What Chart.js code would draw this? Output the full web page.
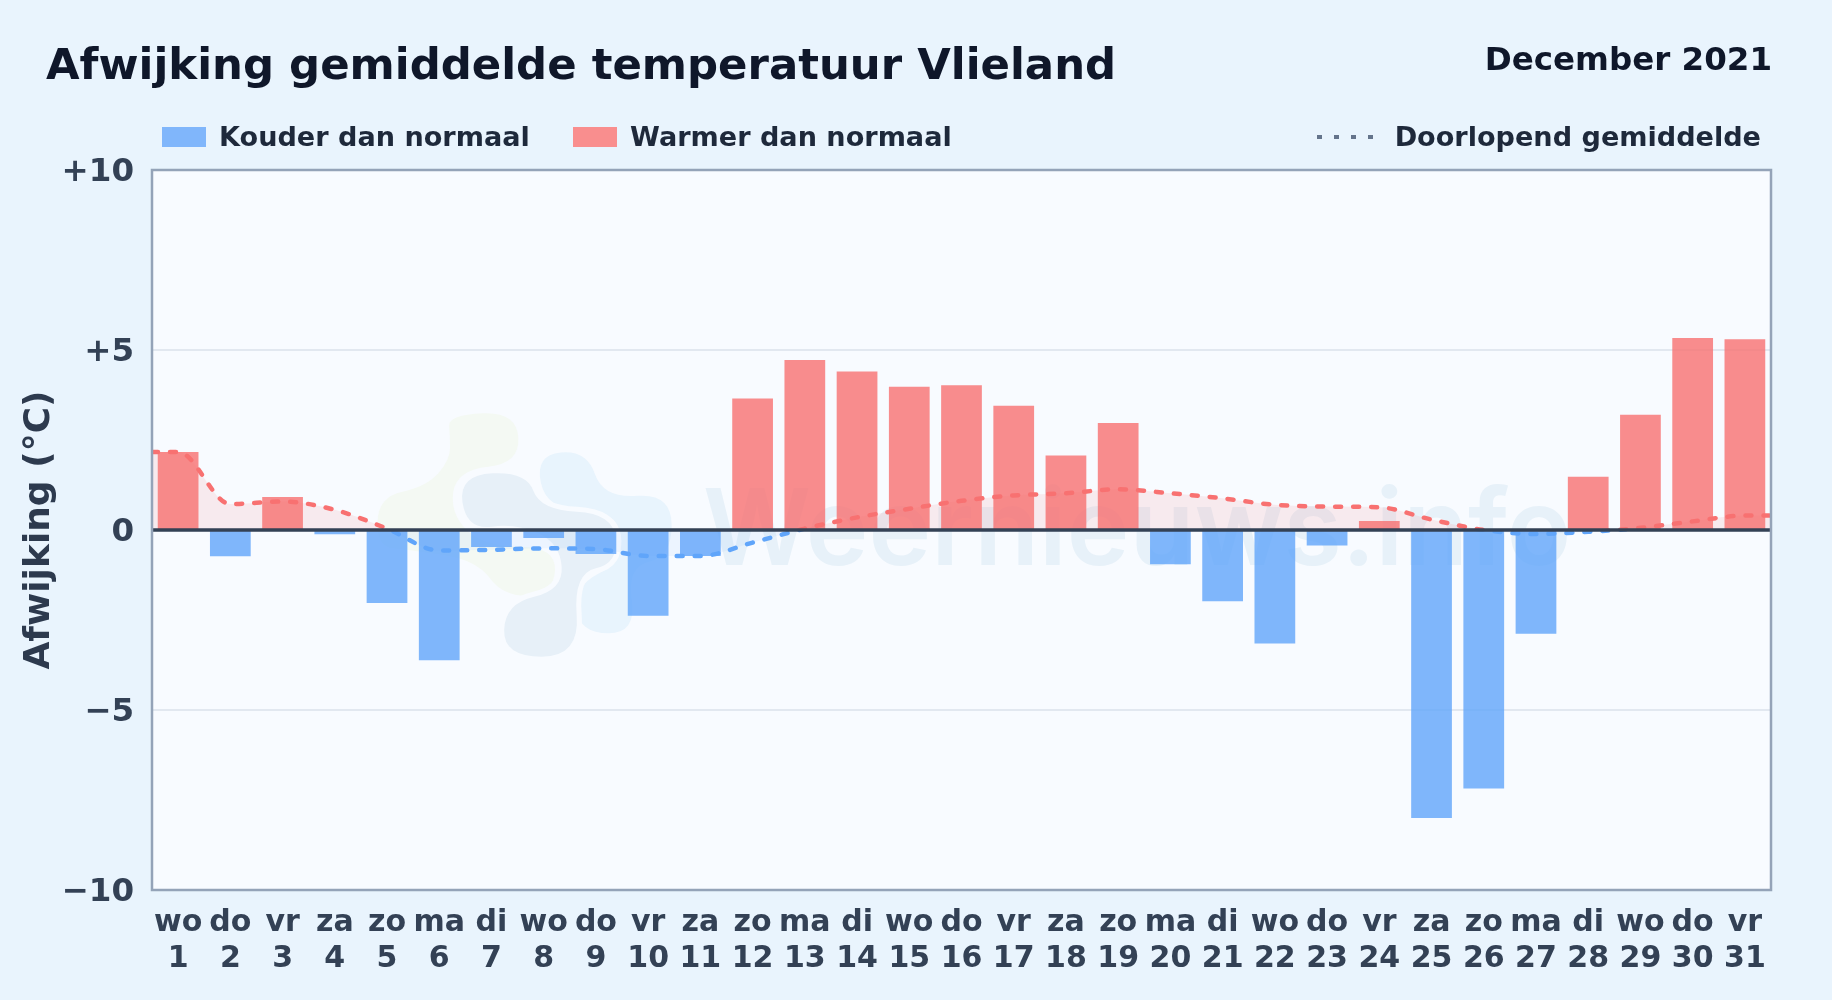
<!DOCTYPE html>
<html>
<head>
<meta charset="utf-8">
<style>
  html, body { margin: 0; padding: 0; width: 1832px; height: 1000px; overflow: hidden; background: #e9f4fd; font-family: "DejaVu Sans", sans-serif; font-weight: bold; }
  canvas { position: absolute; left: 0; top: 0; }
  .txt { position: absolute; white-space: nowrap; line-height: 1; }
  #title { left: 46px; top: 43px; font-size: 43.4px; color: #0f172a; }
  #period { right: 60px; top: 43px; font-size: 32.5px; color: #0f172a; }
  .leg { top: 123px; font-size: 27.1px; color: #1e293b; }
  .swatch { position: absolute; top: 127px; width: 44px; height: 20px; }
  #dots { position: absolute; left: 1317px; top: 135px; width: 58px; height: 4px; }
</style>
<script src="https://cdn.jsdelivr.net/npm/chart.js@4/dist/chart.umd.min.js"></script>
</head>
<body>
<canvas id="chart" width="1832" height="1000"></canvas>
<div class="txt" id="title">Afwijking gemiddelde temperatuur Vlieland</div>
<div class="txt" id="period">December 2021</div>
<div class="swatch" style="left:162px;background:#80b6fb"></div>
<div class="txt leg" style="left:219px">Kouder dan normaal</div>
<div class="swatch" style="left:573px;background:#f98e8e"></div>
<div class="txt leg" style="left:630px">Warmer dan normaal</div>
<svg id="dots"><line x1="0" y1="2" x2="58" y2="2" stroke="#64748b" stroke-width="4" stroke-dasharray="5 12"/></svg>
<div class="txt leg" style="right:71px">Doorlopend gemiddelde</div>
<script>
const weekdays = ["wo","do","vr","za","zo","ma","di","wo","do","vr","za","zo","ma","di","wo","do","vr","za","zo","ma","di","wo","do","vr","za","zo","ma","di","wo","do","vr"];
const days = [1,2,3,4,5,6,7,8,9,10,11,12,13,14,15,16,17,18,19,20,21,22,23,24,25,26,27,28,29,30,31];
const deviation = [2.17,-0.73,0.92,-0.12,-2.03,-3.62,-0.47,-0.22,-0.67,-2.38,-0.72,3.65,4.72,4.4,3.98,4.02,3.45,2.07,2.97,-0.95,-1.98,-3.15,-0.43,0.25,-8.0,-7.18,-2.88,1.48,3.2,5.33,5.3];
const runningMean = [2.17,0.72,0.79,0.56,0.04,-0.57,-0.55,-0.51,-0.53,-0.72,-0.72,-0.35,0.04,0.35,0.59,0.81,0.96,1.02,1.13,1.02,0.88,0.7,0.65,0.63,0.29,0,-0.11,-0.05,0.06,0.24,0.4];
const yTicks = {"10":"+10","5":"+5","0":"0","-5":"\u22125","-10":"\u221210"};

const labels = weekdays.map((w, i) => [w, String(days[i])]);
// line runs on to the plot edges, half a day before the 1st and after the 31st
const meanPoints = [{x: 0.5, y: runningMean[0]}]
    .concat(runningMean.map((v, i) => ({x: days[i], y: v})))
    .concat([{x: 31.5, y: runningMean[30]}]);

function lineGradient(context) {
    const chart = context.chart;
    if (!chart.chartArea) return "#f87171";
    const y = chart.scales.y;
    const g = chart.ctx.createLinearGradient(0, y.top, 0, y.bottom);
    const stop = (y.getPixelForValue(0) - y.top) / (y.bottom - y.top);
    g.addColorStop(0, "#f87171");
    g.addColorStop(stop, "#f87171");
    g.addColorStop(stop, "#60a5fa");
    g.addColorStop(1, "#60a5fa");
    return g;
}

// logo outlines, in 3x crop pixels around (370,400)
const logoGreen = [[235,45],[440,35],[450,190],[260,210],[240,340],[340,440],[560,440],[550,585],[400,590],[320,480],[120,450],[20,440],[25,290],[170,260],[240,180],[240,110]];
const logoBlue = [[495,165],[650,150],[700,295],[905,280],[905,470],[770,500],[800,700],[630,700],[610,560],[765,480],[740,330],[530,330]];
const logoGrey = [[265,225],[470,215],[510,330],[730,340],[745,490],[610,520],[630,770],[400,770],[405,610],[580,570],[570,430],[440,370],[290,390]];

function blob(ctx, pts, color) {
    const n = pts.length;
    ctx.beginPath();
    ctx.moveTo((pts[n - 1][0] + pts[0][0]) / 2, (pts[n - 1][1] + pts[0][1]) / 2);
    for (let i = 0; i < n; i++) {
        const next = pts[(i + 1) % n];
        ctx.quadraticCurveTo(pts[i][0], pts[i][1], (pts[i][0] + next[0]) / 2, (pts[i][1] + next[1]) / 2);
    }
    ctx.closePath();
    ctx.strokeStyle = "#f8fbff";
    ctx.lineWidth = 30;
    ctx.stroke();
    ctx.fillStyle = color;
    ctx.fill();
}

const plotFrame = {
    id: "plotFrame",
    beforeDraw(chart) {
        const ctx = chart.ctx;
        const a = chart.chartArea;
        ctx.save();
        ctx.fillStyle = "#e9f4fd";
        ctx.fillRect(0, 0, chart.width, chart.height);
        ctx.fillStyle = "#f8fbff";
        ctx.fillRect(a.left, a.top, a.width, a.height);
        // watermark
        ctx.save();
        ctx.translate(370, 400);
        ctx.scale(1 / 3, 1 / 3);
        blob(ctx, logoGreen, "#f4f9f3");
        blob(ctx, logoBlue, "#e8f4fd");
        blob(ctx, logoGrey, "#e7f0f8");
        ctx.restore();
        ctx.font = "600 106px Inter, 'DejaVu Sans', sans-serif";
        ctx.fillStyle = "#e7f1f9";
        ctx.textBaseline = "alphabetic";
        ctx.fillText("Weernieuws.info", 703, 565);
        ctx.restore();
    },
    afterDatasetsDraw(chart) {
        const ctx = chart.ctx;
        const a = chart.chartArea;
        const zero = chart.scales.y.getPixelForValue(0);
        ctx.save();
        ctx.strokeStyle = "#334155";
        ctx.lineWidth = 3.5;
        ctx.beginPath();
        ctx.moveTo(a.left, zero);
        ctx.lineTo(a.right, zero);
        ctx.stroke();
        ctx.strokeStyle = "#94a3b8";
        ctx.lineWidth = 2.5;
        ctx.strokeRect(a.left, a.top, a.width, a.height);
        ctx.restore();
    }
};

new Chart(document.getElementById("chart").getContext("2d"), {
    data: {
        labels: labels,
        datasets: [
            {
                type: "line",
                data: meanPoints,
                xAxisID: "xLine",
                borderColor: lineGradient,
                borderWidth: 4.5,
                borderDash: [6, 12],
                borderCapStyle: "round",
                pointRadius: 0,
                cubicInterpolationMode: "monotone",
                fill: {target: {value: 0}, above: "rgba(248,113,113,0.12)", below: "rgba(96,165,250,0.08)"},
                order: 1
            },
            {
                type: "bar",
                data: deviation,
                backgroundColor: deviation.map(v => v < 0 ? "rgba(96,165,250,0.8)" : "rgba(248,113,113,0.8)"),
                grouped: false,
                categoryPercentage: 1,
                barPercentage: 0.78,
                order: 2
            }
        ]
    },
    options: {
        responsive: false,
        animation: false,
        layout: {padding: {top: 170, right: 61, left: 0, bottom: 0}},
        plugins: {legend: {display: false}, tooltip: {enabled: false}},
        scales: {
            x: {
                grid: {display: false},
                border: {display: false},
                ticks: {color: "#334155", font: {family: "DejaVu Sans", size: 30, weight: "bold"}, maxRotation: 0, autoSkip: false, padding: 7},
                afterFit(scale) { scale.height = 110; }
            },
            xLine: {type: "linear", display: false, min: 0.5, max: 31.5},
            y: {
                min: -10,
                max: 10,
                grid: {color: "#e2e8f0", lineWidth: 2, drawTicks: false},
                border: {display: false},
                ticks: {
                    stepSize: 5,
                    color: "#334155",
                    padding: 18,
                    labelOffset: 3,
                    font: {family: "DejaVu Sans", size: 32.5, weight: "bold"},
                    callback: v => yTicks[v]
                },
                title: {display: true, text: "Afwijking (\u00b0C)", color: "#2d3a4e", font: {family: "DejaVu Sans", size: 36, weight: "bold"}, padding: {top: 18, bottom: 0}},
                afterFit(scale) { scale.width = 152; }
            }
        }
    },
    plugins: [plotFrame]
});
</script>
</body>
</html>
